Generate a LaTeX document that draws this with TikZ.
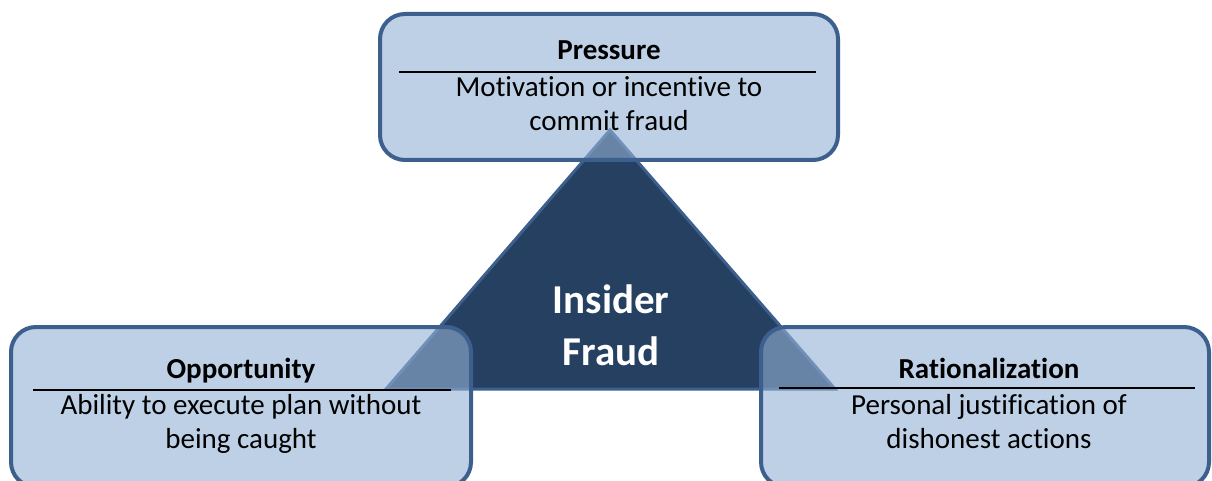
\documentclass[tikz,border=0pt]{standalone}
\usepackage{fontspec}
\setmainfont{Carlito}[Ligatures=NoCommon]
\definecolor{navy}{RGB}{38,64,97}
\definecolor{boxline}{RGB}{60,95,142}
\definecolor{boxfill}{RGB}{147,177,213}
\begin{document}
\begin{tikzpicture}[x=1pt,y=-1pt,
  boxshape/.style={draw=boxline, line width=4pt, fill=boxfill, fill opacity=0.6, rounded corners=25pt, inner sep=0pt, rectangle},
  tri/.style={draw=boxline, line width=3pt, fill=navy, line join=miter},
  txt/.style={anchor=base, inner sep=0pt, font=\fontsize{29}{35}\selectfont},
  ttl/.style={anchor=base, inner sep=0pt, font=\fontsize{29}{35}\selectfont\bfseries},
  big/.style={anchor=base, inner sep=0pt, text=white, font=\fontsize{41}{50}\selectfont\bfseries},
  rulel/.style={line width=2pt, black}]
\useasboundingbox (0,0) rectangle (1212,481);
\clip (0,0) rectangle (1212,481);
% triangle
\coordinate (apex) at (610,130);
\coordinate (bl) at (386,389);
\coordinate (br) at (835,389);
\draw[tri] (apex) -- (bl) -- (br) -- cycle;
% boxes
\node[boxshape, minimum width=458pt, minimum height=146pt] (pressure) at (609,87) {};
\node[boxshape, minimum width=460pt, minimum height=160pt] (opportunity) at (241,407) {};
\node[boxshape, minimum width=448pt, minimum height=160pt] (rational) at (985,407) {};
% rules
\coordinate (r1a) at (399,72); \coordinate (r1b) at (816,72);
\coordinate (r2a) at (33,390); \coordinate (r2b) at (451,390);
\coordinate (r3a) at (779,388); \coordinate (r3b) at (1195,388);
\draw[rulel] (r1a) -- (r1b);
\draw[rulel] (r2a) -- (r2b);
\draw[rulel] (r3a) -- (r3b);
% texts
\node[ttl] (t1) at (609,60) {Pressure};
\node[txt] (d1a) at (609,97) {Motivation or incentive to};
\node[txt] (d1b) at (609,131) {commit fraud};
\node[ttl] (t2) at (241,378) {Opportunity};
\node[txt] (d2a) at (241,414) {Ability to execute plan without};
\node[txt] (d2b) at (241,448) {being caught};
\node[ttl] (t3) at (989,378) {Rationalization};
\node[txt] (d3a) at (989,414) {Personal justification of};
\node[txt] (d3b) at (989,448) {dishonest actions};
\node[big] (c1) at (611,313) {Insider};
\node[big] (c2) at (611,365) {Fraud};
\end{tikzpicture}
\end{document}
